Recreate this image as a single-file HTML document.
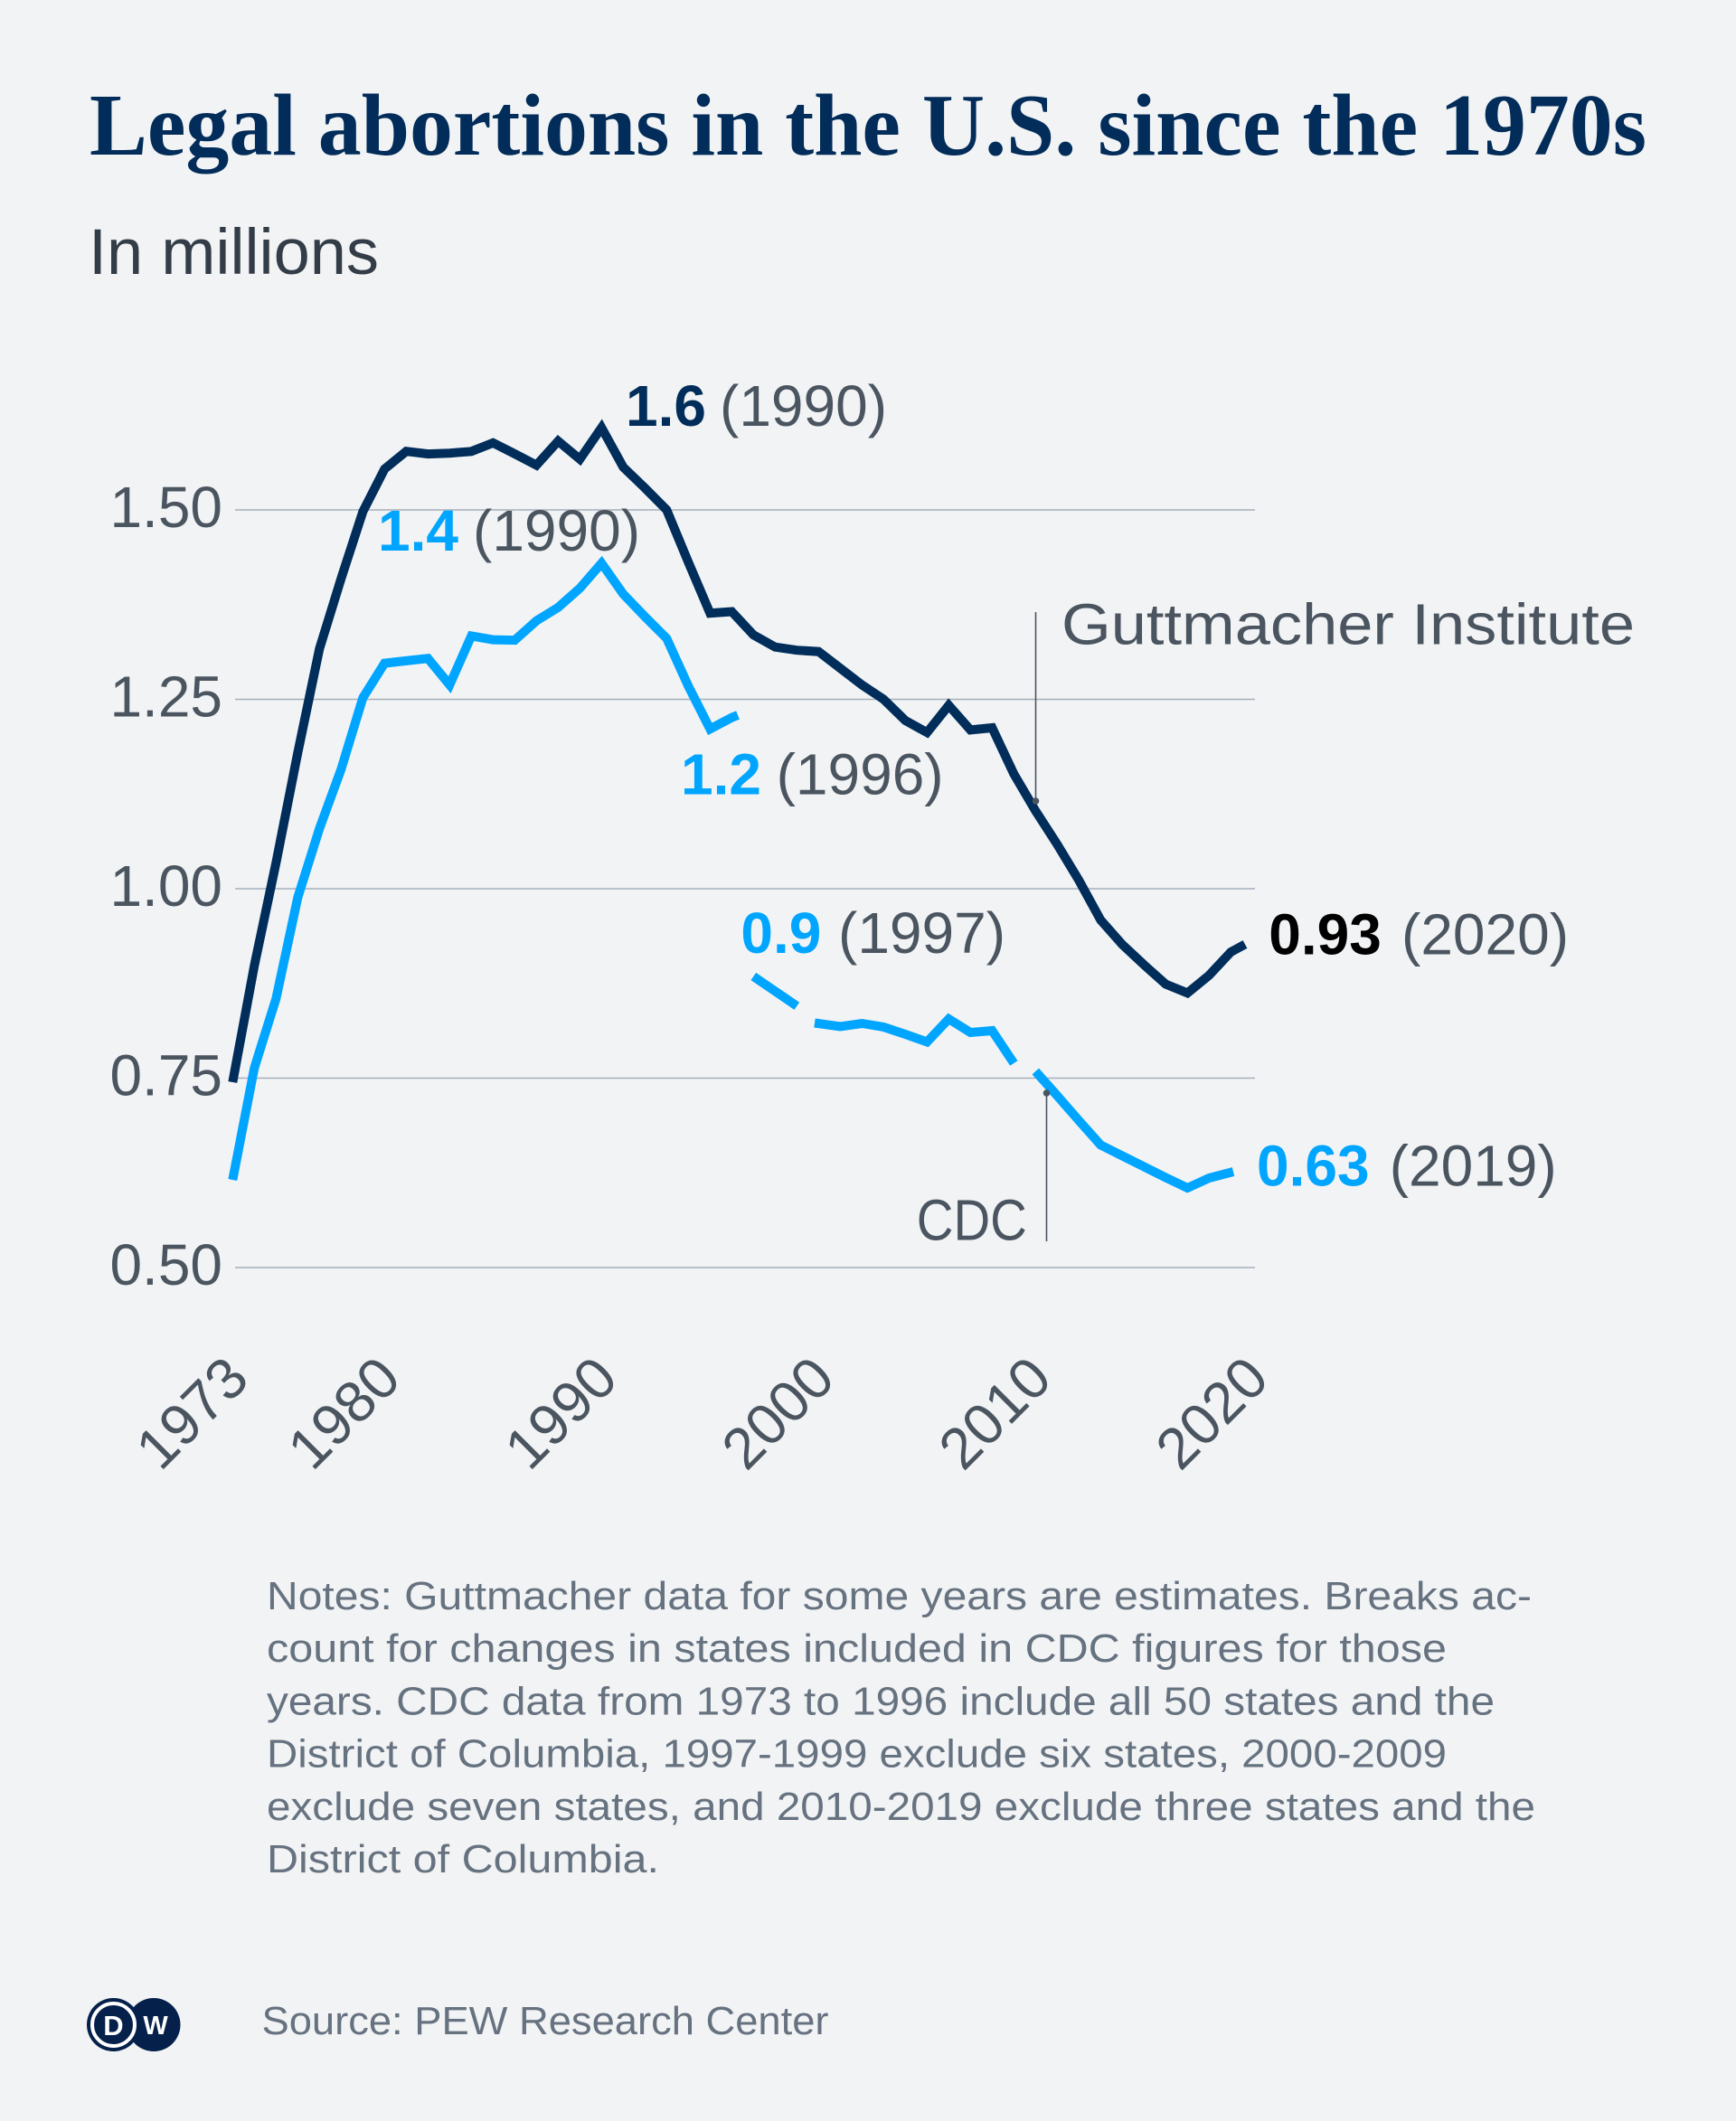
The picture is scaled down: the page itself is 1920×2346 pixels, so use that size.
<!DOCTYPE html>
<html>
<head>
<meta charset="utf-8">
<style>
  html,body{margin:0;padding:0;background:#f1f3f5;}
  svg{display:block;}
  .sans{font-family:"Liberation Sans",Arial,sans-serif;}
  .serif{font-family:"Liberation Serif","Times New Roman",serif;}
</style>
</head>
<body>
<svg width="1920" height="2346" viewBox="0 0 1920 2346" xmlns="http://www.w3.org/2000/svg">
  <rect x="0" y="0" width="1920" height="2346" fill="#f1f3f5"/>

  <!-- Title -->
  <text class="serif" x="99" y="171" font-size="97" font-weight="bold" fill="#022c59" textLength="1722" lengthAdjust="spacingAndGlyphs">Legal abortions in the U.S. since the 1970s</text>
  <text class="sans" x="98" y="303" font-size="71" fill="#333d47" textLength="321" lengthAdjust="spacingAndGlyphs">In millions</text>

  <!-- Gridlines -->
  <g stroke="#a6b0bb" stroke-width="1.4">
    <line x1="260" y1="564" x2="1388" y2="564"/>
    <line x1="260" y1="773.5" x2="1388" y2="773.5"/>
    <line x1="260" y1="983" x2="1388" y2="983"/>
    <line x1="260" y1="1192.5" x2="1388" y2="1192.5"/>
    <line x1="260" y1="1402" x2="1388" y2="1402"/>
  </g>

  <!-- Y tick labels -->
  <g class="sans" font-size="64" fill="#4b5560" text-anchor="end">
    <text x="246" y="583">1.50</text>
    <text x="246" y="792.5">1.25</text>
    <text x="246" y="1002">1.00</text>
    <text x="246" y="1211.5">0.75</text>
    <text x="246" y="1421">0.50</text>
  </g>

  <!-- X tick labels (rotated) -->
  <g class="sans" font-size="64" fill="#4b5560" text-anchor="end">
    <text transform="translate(278,1528) rotate(-45)">1973</text>
    <text transform="translate(446,1528) rotate(-45)">1980</text>
    <text transform="translate(686,1528) rotate(-45)">1990</text>
    <text transform="translate(926,1528) rotate(-45)">2000</text>
    <text transform="translate(1166,1528) rotate(-45)">2010</text>
    <text transform="translate(1406,1528) rotate(-45)">2020</text>
  </g>

  <!-- Leader lines -->
  <g stroke="#4b5560" stroke-width="1.6">
    <line x1="1145.5" y1="677" x2="1145.5" y2="886"/>
    <line x1="1157.5" y1="1209" x2="1157.5" y2="1373"/>
  </g>

  <!-- CDC series (bright blue) -->
  <g fill="none" stroke="#00a5ff" stroke-width="10" stroke-linejoin="miter" stroke-linecap="butt" stroke-miterlimit="10">
    <polyline points="257.3,1305.0 281.3,1181.2 305.3,1104.6 329.3,992.8 353.3,916.5 377.3,850.8 401.3,771.9 425.3,733.6 449.3,730.9 473.3,728.3 497.3,757.6 521.3,703.5 545.3,707.6 569.3,708.1 593.3,686.6 617.3,671.9 641.3,650.6 665.3,623.0 689.3,657.1 713.3,682.1 737.3,706.1 761.3,758.9 785.3,806.3 809.3,793.7 816,791"/>
    <polyline points="833.3,1080 857.3,1096.4 881.3,1112.7"/>
    <polyline points="901,1131.5 929.3,1135.5 953.3,1132 977.3,1136 1001.3,1144 1025.3,1152.5 1049.3,1127 1073.3,1142 1097.3,1140 1121.3,1176"/>
    <polyline points="1145.3,1185 1169.3,1212 1193.3,1239.5 1217.3,1266.5 1241.3,1278.5 1265.3,1290.5 1289.3,1302.5 1313.3,1314 1337.3,1303 1364,1296"/>
  </g>

  <!-- Guttmacher series (navy) -->
  <polyline fill="none" stroke="#002d5a" stroke-width="10" stroke-linejoin="miter" stroke-linecap="butt" stroke-miterlimit="10"
    points="257.3,1197.0 281.3,1068.0 305.3,954.3 329.3,832.7 353.3,717.6 377.3,639.8 401.3,565.9 425.3,518.8 449.3,499.2 473.3,502.1 497.3,501.2 521.3,499.3 545.3,489.8 569.3,502.0 593.3,514.5 617.3,487.9 641.3,507.9 665.3,473.0 689.3,516.7 713.3,539.8 737.3,564.0 761.3,621.8 785.3,678.2 809.3,676.5 833.3,702.3 857.3,715.7 881.3,719.2 905.3,720.7 929.3,739.1 953.3,757.6 977.3,773.5 1001.3,797.0 1025.3,810.2 1049.3,780.2 1073.3,807.4 1097.3,805.0 1121.3,856.0 1145.3,896.9 1169.3,934.0 1193.3,973.8 1217.3,1017.6 1241.3,1044.8 1265.3,1067.2 1289.3,1088.6 1313.3,1098.4 1337.3,1078.7 1361.3,1053.0 1377,1044.5"/>

  <!-- Leader dots -->
  <circle cx="1145.5" cy="886" r="3.8" fill="#4b5560"/>
  <circle cx="1157.5" cy="1209" r="3.8" fill="#4b5560"/>

  <!-- Annotations -->
  <g class="sans" font-size="64">
    <text x="692" y="471" font-weight="bold" fill="#002d5a">1.6</text>
    <text x="981" y="471" fill="#4b5560" text-anchor="end">(1990)</text>

    <text x="418" y="609" font-weight="bold" fill="#00a5ff">1.4</text>
    <text x="708" y="609" fill="#4b5560" text-anchor="end">(1990)</text>

    <text x="753" y="878.5" font-weight="bold" fill="#00a5ff">1.2</text>
    <text x="1043.6" y="878.5" fill="#4b5560" text-anchor="end">(1996)</text>

    <text x="819.4" y="1054.2" font-weight="bold" fill="#00a5ff">0.9</text>
    <text x="1112" y="1054.2" fill="#4b5560" text-anchor="end">(1997)</text>

    <text x="1403.3" y="1055.7" font-weight="bold" fill="#000000">0.93</text>
    <text x="1735" y="1055.7" fill="#4b5560" text-anchor="end">(2020)</text>

    <text x="1390" y="1311.7" font-weight="bold" fill="#00a5ff">0.63</text>
    <text x="1721.7" y="1311.7" fill="#4b5560" text-anchor="end">(2019)</text>

    <text x="1174" y="712.3" fill="#4b5560" textLength="634" lengthAdjust="spacingAndGlyphs">Guttmacher Institute</text>
    <text x="1013.8" y="1371.6" fill="#4b5560" textLength="122" lengthAdjust="spacingAndGlyphs">CDC</text>
  </g>

  <!-- Notes -->
  <g class="sans" font-size="44" fill="#66727f">
    <text x="295" y="1780" textLength="1399" lengthAdjust="spacingAndGlyphs">Notes: Guttmacher data for some years are estimates. Breaks ac-</text>
    <text x="295" y="1838" textLength="1305" lengthAdjust="spacingAndGlyphs">count for changes in states included in CDC figures for those</text>
    <text x="295" y="1896.5" textLength="1358" lengthAdjust="spacingAndGlyphs">years. CDC data from 1973 to 1996 include all 50 states and the</text>
    <text x="295" y="1954.5" textLength="1305" lengthAdjust="spacingAndGlyphs">District of Columbia, 1997-1999 exclude six states, 2000-2009</text>
    <text x="295" y="2013" textLength="1403" lengthAdjust="spacingAndGlyphs">exclude seven states, and 2010-2019 exclude three states and the</text>
    <text x="295" y="2071" textLength="434" lengthAdjust="spacingAndGlyphs">District of Columbia.</text>
  </g>

  <!-- Source -->
  <text class="sans" x="289.5" y="2250" font-size="44" fill="#66727f" textLength="627" lengthAdjust="spacingAndGlyphs">Source: PEW Research Center</text>

  <!-- DW logo -->
  <g>
    <circle cx="170" cy="2239.5" r="29.5" fill="#05204a"/>
    <circle cx="125.5" cy="2239.5" r="29.5" fill="#05204a"/>
    <circle cx="125.5" cy="2239.5" r="23.5" fill="none" stroke="#ffffff" stroke-width="4"/>
    <text class="sans" x="125.5" y="2251" font-size="31" font-weight="bold" fill="#ffffff" text-anchor="middle">D</text>
    <text class="sans" x="172" y="2250" font-size="29" font-weight="bold" fill="#ffffff" text-anchor="middle">W</text>
  </g>
</svg>
</body>
</html>
